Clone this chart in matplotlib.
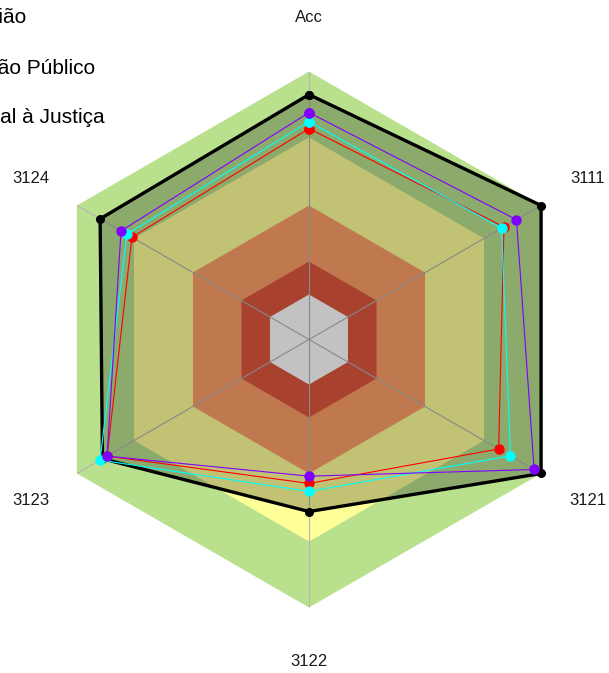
import numpy as np
import matplotlib.pyplot as plt

plt.rcParams['font.family'] = ['Liberation Sans', 'DejaVu Sans']

# axis labels, clockwise from the top
axis_labels = ["Acc", "3111", "3121", "3122", "3123", "3124"]

# background bands (fraction of outer radius) and their colours
band_edges = [1.0, 0.754, 0.5, 0.291, 0.168]
band_colors = ["#B8E08D", "#FFFF99", "#FD9E69", "#DD583F", "#FFFFFF"]

# series values (fraction of outer radius)
ref_vals = [0.914, 1.0, 1.0, 0.642, 0.89, 0.90]
purple_vals = [0.847, 0.894, 0.97, 0.51, 0.87, 0.81]
cyan_vals = [0.813, 0.83, 0.868, 0.567, 0.90, 0.785]
red_vals = [0.787, 0.84, 0.817, 0.537, 0.87, 0.763]

# legend names (only their tails fit inside the image)
legend_names = ["Região", "Órgão Público", "Acesso Igual à Justiça"]


def closed(vals):
    return list(vals) + [vals[0]]


fig = plt.figure(figsize=(6.09, 6.73), dpi=100)
W, H = 609, 673
cx, cy, R = 309, 339.5, 268
ax = fig.add_axes([(cx - R) / W, (H - cy - R) / H, 2 * R / W, 2 * R / H],
                  projection='polar')
ax.set_theta_zero_location('N')
ax.set_theta_direction(-1)
ax.set_ylim(0, 1)
ax.set_axis_off()

theta = np.deg2rad(np.arange(len(axis_labels)) * 60.0)
theta_c = closed(theta)

# coloured hexagon bands
for edge, col in zip(band_edges, band_colors):
    ax.fill(theta_c, [edge] * len(theta_c), color=col, lw=0, zorder=1)

# radial lines
for t in theta:
    ax.plot([t, t], [0, 1], color='#B4B4B4', lw=0.8, zorder=2)

# reference polygon: dark translucent fill and thick black outline
ax.fill(theta_c, closed(ref_vals), color='black', alpha=0.24, lw=0, zorder=3)
ax.plot(theta_c, closed(ref_vals), color='black', lw=2.4, marker='o',
        markersize=5.5, zorder=4, clip_on=False)

for vals, col in [(red_vals, 'red'), (cyan_vals, 'cyan'), (purple_vals, '#8000FF')]:
    ax.plot(theta_c, closed(vals), color=col, lw=0.8, marker='o',
            markersize=6.5, zorder=5, clip_on=False)

for t, lab in zip(theta, axis_labels):
    ax.text(t, 1.2, lab, ha='center', va='center', fontsize=12, color='#1a1a1a')

for (x, y), name in zip([(27, 23), (95, 74), (105, 123)], legend_names):
    fig.text(x / W, 1 - y / H, name, ha='right', va='baseline', fontsize=15)

fig.savefig('out.png', dpi=100)
